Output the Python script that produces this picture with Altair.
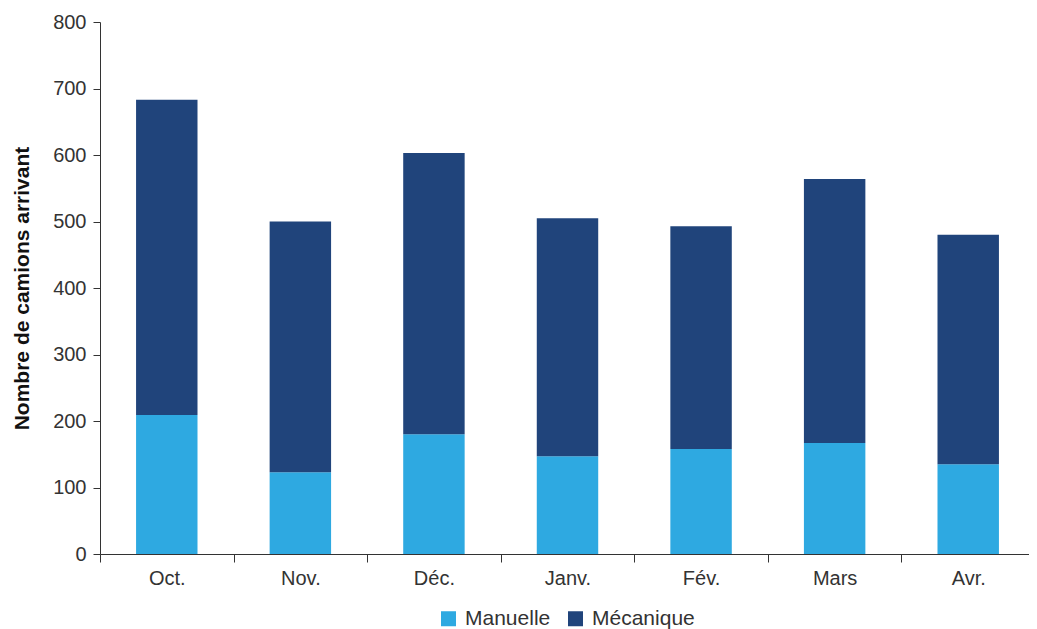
import altair as alt
import pandas as pd

months = ["Oct.", "Nov.", "Déc.", "Janv.", "Fév.", "Mars", "Avr."]
manuelle = [209, 123, 180, 147, 158, 167, 135]
totals = [683, 500, 603, 505, 493, 564, 480]
mecanique = [t - m for t, m in zip(totals, manuelle)]
series = ["Manuelle", "Mécanique"]
colors = ["#2EA9E1", "#20447B"]

rows = []
for i, mo in enumerate(months):
    rows.append({"mois": mo, "type": "Manuelle", "val": manuelle[i], "ord": 0})
    rows.append({"mois": mo, "type": "Mécanique", "val": mecanique[i], "ord": 1})
df = pd.DataFrame(rows)

font = "Liberation Sans"

chart = alt.Chart(df).mark_bar(width=alt.RelativeBandSize(0.46)).encode(
    x=alt.X("mois:N", sort=months, title=None,
            scale=alt.Scale(paddingInner=0, paddingOuter=0),
            axis=alt.Axis(labelAngle=0, labelFontSize=20, labelColor="#333",
                          labelFont=font, labelPadding=6, tickBand="extent",
                          tickSize=8, domainColor="#333", tickColor="#333")),
    y=alt.Y("val:Q", stack="zero", title="Nombre de camions arrivant",
            scale=alt.Scale(domain=[0, 800]),
            axis=alt.Axis(values=list(range(0, 801, 100)), grid=False,
                          labelFontSize=20, labelColor="#333", labelFont=font,
                          tickSize=7, labelPadding=7, domainColor="#333",
                          tickColor="#333", titleFont=font, titleFontSize=21,
                          titleFontWeight="bold", titleColor="#111",
                          titlePadding=20)),
    color=alt.Color("type:N", sort=series,
                    scale=alt.Scale(domain=series, range=colors),
                    legend=alt.Legend(title=None, orient="none", direction="horizontal",
                                      legendX=338, legendY=586, symbolType="square",
                                      symbolSize=225, symbolStrokeWidth=0,
                                      labelFontSize=21, labelFont=font,
                                      labelColor="#333", columnPadding=14,
                                      labelOffset=6)),
    order=alt.Order("ord:Q"),
).properties(
    width=935, height=532,
    padding={"left": 92, "top": 14, "right": -6, "bottom": 78},
    autosize=alt.AutoSizeParams(type="none"),
).configure_view(stroke=None)

chart.save("out.html", embed_options={"renderer": "svg", "actions": False})
